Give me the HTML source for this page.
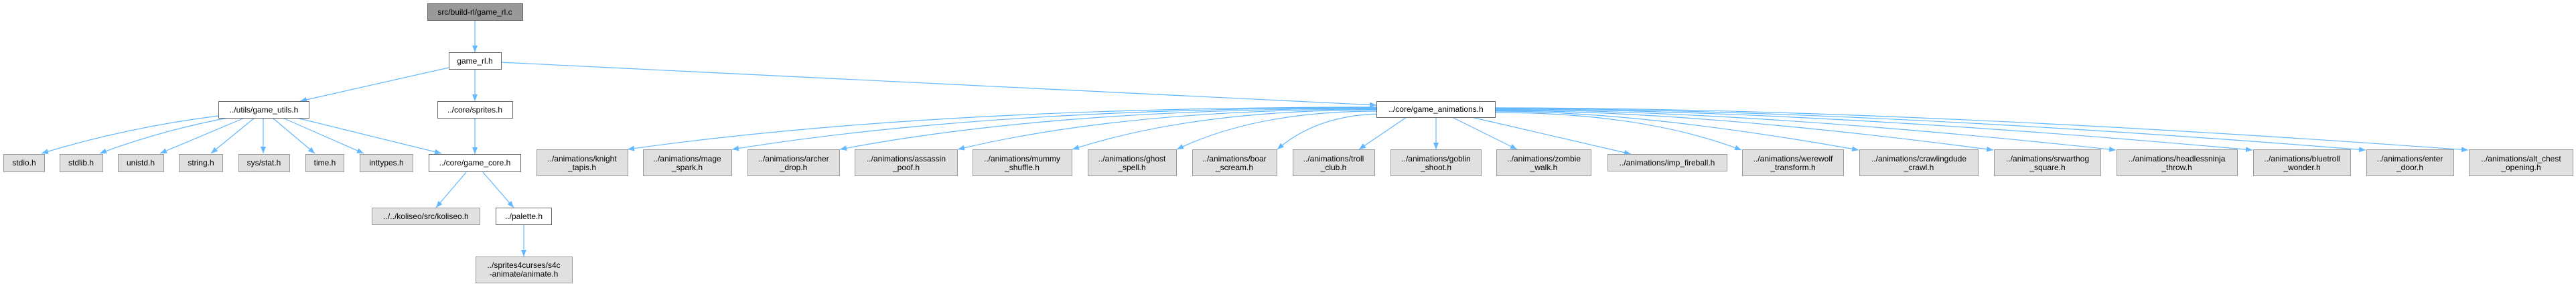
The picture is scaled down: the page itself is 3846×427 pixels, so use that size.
<!DOCTYPE html>
<html><head><meta charset="utf-8"><style>
html,body{margin:0;padding:0;background:#fff;}
svg{display:block;}
text{font-family:"Liberation Sans",Helvetica,Arial,sans-serif;font-size:12px;fill:#000;text-anchor:middle;}
.g{fill:#e0e0e0;stroke:#999;stroke-width:1}
.w{fill:#fff;stroke:#666;stroke-width:1}
.r{fill:#999;stroke:#666;stroke-width:1}
.e{fill:none;stroke:#63b8ff;stroke-width:1.2}
</style></head><body>
<svg width="3846" height="427" viewBox="0 0 3846 427" xmlns="http://www.w3.org/2000/svg">
<defs><marker id="a" viewBox="0 0 10 8" refX="10" refY="4" markerWidth="10" markerHeight="8" markerUnits="userSpaceOnUse" orient="auto"><path d="M0,0 L10,4 L0,8 z" fill="#63b8ff"/></marker></defs>
<g marker-end="url(#a)">
<path class="e" d="M709,30 L709,78"/>
<path class="e" d="M670,101 L448,151"/>
<path class="e" d="M709,103 L709,151"/>
<path class="e" d="M748,93 L2055,157"/>
<path class="e" d="M709,176 L709,230"/>
<path class="e" d="M326,173 Q190,190 62,229"/>
<path class="e" d="M340,176 Q240,195 149,229"/>
<path class="e" d="M365,176 L239,229"/>
<path class="e" d="M380,176 L315,229"/>
<path class="e" d="M393,176 L393,229"/>
<path class="e" d="M407,176 L470,229"/>
<path class="e" d="M422,176 L543,229"/>
<path class="e" d="M443,176 L659,229"/>
<path class="e" d="M697,256 L651,310"/>
<path class="e" d="M720,256 L767,310"/>
<path class="e" d="M782,335 L782,383"/>
<path class="e" d="M2055,160 Q1384,160 937,223"/>
<path class="e" d="M2055,161 Q1478,161 1093,223"/>
<path class="e" d="M2055,162 Q1574,162 1254,223"/>
<path class="e" d="M2055,163 Q1680,163 1430,223"/>
<path class="e" d="M2055,164 Q1783,164 1601,223"/>
<path class="e" d="M2055,166 Q1876,166 1757,223"/>
<path class="e" d="M2060,170 Q1966,172 1907,223"/>
<path class="e" d="M2100,175 L2029,223"/>
<path class="e" d="M2144,175 L2144,223"/>
<path class="e" d="M2168,175 L2265,223"/>
<path class="e" d="M2197,175 L2435,230"/>
<path class="e" d="M2232,168 Q2453,168 2600,224"/>
<path class="e" d="M2232,166 Q2449,166 2775,224"/>
<path class="e" d="M2232,165 Q2530,165 2976,224"/>
<path class="e" d="M2232,164 Q2603,164 3159,224"/>
<path class="e" d="M2232,163 Q2684,163 3363,224"/>
<path class="e" d="M2232,162 Q2752,162 3532,224"/>
<path class="e" d="M2232,161 Q2813,161 3685,224"/>
</g>
<rect class="r" x="638.5" y="5.5" width="142" height="25"/><text x="709" y="22">src/build-rl/game_rl.c</text>
<rect class="w" x="670.5" y="78.5" width="78" height="25"/><text x="709" y="95">game_rl.h</text>
<rect class="w" x="326.5" y="151.5" width="135" height="25"/><text x="394" y="168">../utils/game_utils.h</text>
<rect class="w" x="653.5" y="151.5" width="112" height="25"/><text x="709" y="168">../core/sprites.h</text>
<rect class="w" x="2055.5" y="151.5" width="177" height="24"/><text x="2144" y="167">../core/game_animations.h</text>
<rect class="g" x="5.5" y="230.5" width="61" height="26"/><text x="36" y="247">stdio.h</text>
<rect class="g" x="89.5" y="230.5" width="64" height="26"/><text x="121" y="247">stdlib.h</text>
<rect class="g" x="176.5" y="230.5" width="68" height="26"/><text x="210" y="247">unistd.h</text>
<rect class="g" x="267.5" y="230.5" width="65" height="26"/><text x="300" y="247">string.h</text>
<rect class="g" x="356.5" y="230.5" width="76" height="26"/><text x="394" y="247">sys/stat.h</text>
<rect class="g" x="456.5" y="230.5" width="57" height="26"/><text x="485" y="247">time.h</text>
<rect class="g" x="537.5" y="230.5" width="79" height="26"/><text x="577" y="247">inttypes.h</text>
<rect class="w" x="640.5" y="230.5" width="137" height="26"/><text x="709" y="247">../core/game_core.h</text>
<rect class="g" x="555.5" y="310.5" width="161" height="25"/><text x="636" y="327">../../koliseo/src/koliseo.h</text>
<rect class="w" x="740.5" y="310.5" width="83" height="25"/><text x="782" y="327">../palette.h</text>
<rect class="g" x="710.5" y="383.5" width="144" height="39"/><text x="782" y="400">../sprites4curses/s4c</text><text x="782" y="413">-animate/animate.h</text>
<g>
<rect class="g" x="801.5" y="223.5" width="136" height="39"/><text x="869" y="241">../animations/knight</text><text x="869" y="254">_tapis.h</text>
<rect class="g" x="960.5" y="223.5" width="132" height="39"/><text x="1026" y="241">../animations/mage</text><text x="1026" y="254">_spark.h</text>
<rect class="g" x="1116.5" y="223.5" width="137" height="39"/><text x="1185" y="241">../animations/archer</text><text x="1185" y="254">_drop.h</text>
<rect class="g" x="1276.5" y="223.5" width="153" height="39"/><text x="1353" y="241">../animations/assassin</text><text x="1353" y="254">_poof.h</text>
<rect class="g" x="1452.5" y="223.5" width="148" height="39"/><text x="1526" y="241">../animations/mummy</text><text x="1526" y="254">_shuffle.h</text>
<rect class="g" x="1624.5" y="223.5" width="132" height="39"/><text x="1690" y="241">../animations/ghost</text><text x="1690" y="254">_spell.h</text>
<rect class="g" x="1780.5" y="223.5" width="126" height="39"/><text x="1843" y="241">../animations/boar</text><text x="1843" y="254">_scream.h</text>
<rect class="g" x="1930.5" y="223.5" width="122" height="39"/><text x="1991" y="241">../animations/troll</text><text x="1991" y="254">_club.h</text>
<rect class="g" x="2076.5" y="223.5" width="135" height="39"/><text x="2144" y="241">../animations/goblin</text><text x="2144" y="254">_shoot.h</text>
<rect class="g" x="2234.5" y="223.5" width="141" height="39"/><text x="2305" y="241">../animations/zombie</text><text x="2305" y="254">_walk.h</text>
<rect class="g" x="2400.5" y="230.5" width="178" height="25"/><text x="2489" y="247">../animations/imp_fireball.h</text>
<rect class="g" x="2601.5" y="223.5" width="151" height="39"/><text x="2677" y="241">../animations/werewolf</text><text x="2677" y="254">_transform.h</text>
<rect class="g" x="2776.5" y="223.5" width="177" height="39"/><text x="2865" y="241">../animations/crawlingdude</text><text x="2865" y="254">_crawl.h</text>
<rect class="g" x="2977.5" y="223.5" width="159" height="39"/><text x="3057" y="241">../animations/srwarthog</text><text x="3057" y="254">_square.h</text>
<rect class="g" x="3160.5" y="223.5" width="180" height="39"/><text x="3250" y="241">../animations/headlessninja</text><text x="3250" y="254">_throw.h</text>
<rect class="g" x="3364.5" y="223.5" width="145" height="39"/><text x="3437" y="241">../animations/bluetroll</text><text x="3437" y="254">_wonder.h</text>
<rect class="g" x="3533.5" y="223.5" width="130" height="39"/><text x="3598" y="241">../animations/enter</text><text x="3598" y="254">_door.h</text>
<rect class="g" x="3686.5" y="223.5" width="155" height="39"/><text x="3764" y="241">../animations/alt_chest</text><text x="3764" y="254">_opening.h</text>
</g>
</svg>
</body></html>
